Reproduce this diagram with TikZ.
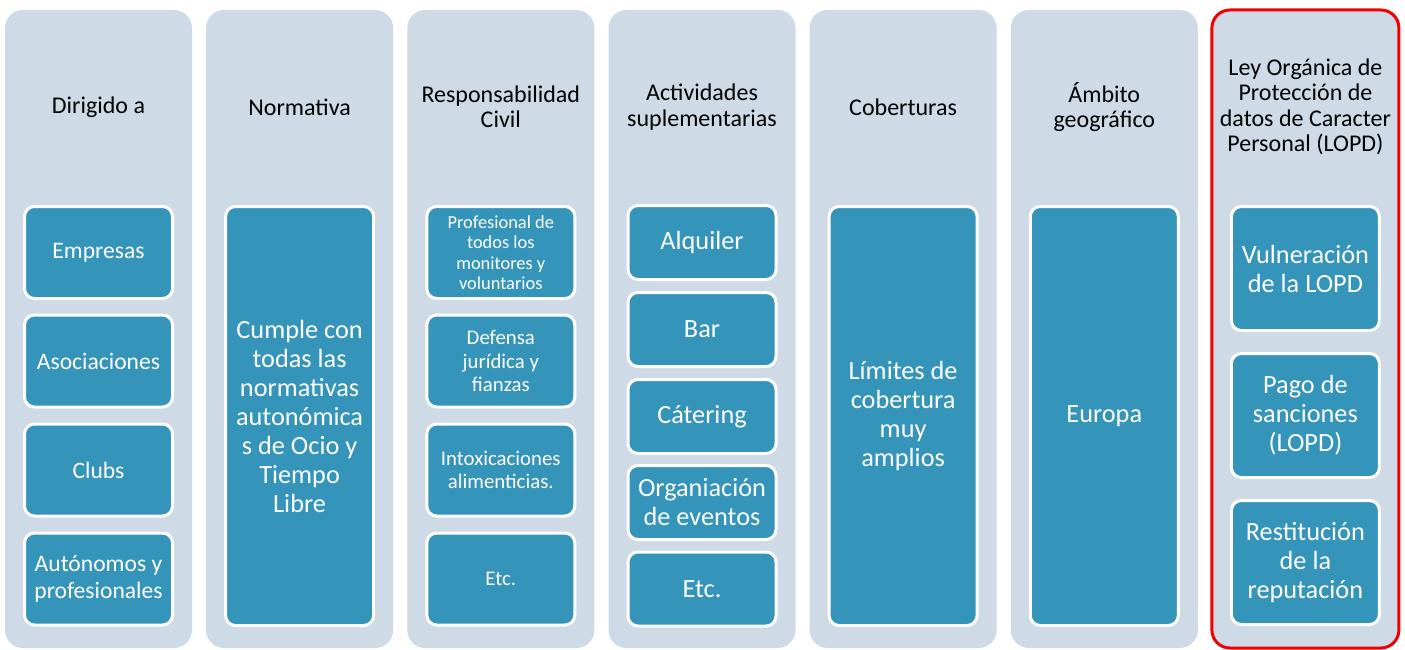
\documentclass[tikz,border=0pt]{standalone}
\usepackage{fontspec}
\setmainfont{Carlito}
\definecolor{colbg}{RGB}{206,219,230}
\definecolor{boxblue}{RGB}{52,148,186}
\definecolor{lopdred}{RGB}{240,0,0}
\begin{document}
\begin{tikzpicture}[x=1pt,y=-1pt,
  column/.style={rectangle, rounded corners=18pt, fill=colbg, minimum width=187pt, minimum height=638pt, inner sep=0pt},
  header/.style={align=center, font=\fontsize{24}{25.5}\selectfont, text=black, inner sep=0pt},
  item/.style={rectangle, rounded corners=10pt, fill=boxblue, draw=white, line width=3pt, minimum width=148pt, text=white, align=center, inner sep=0pt},
  rowfour/.style={item, minimum height=92pt},
  rowfive/.style={item, minimum height=74pt},
  rowthree/.style={item, minimum height=124pt},
  rowone/.style={item, minimum height=419pt},
  fsmall/.style={font=\fontsize{23.6}{27}\selectfont},
  fbig/.style={font=\fontsize{26.3}{29}\selectfont},
  ftiny/.style={font=\fontsize{18.4}{20.5}\selectfont},
  fmid/.style={font=\fontsize{20.8}{23.5}\selectfont}
]
\useasboundingbox (0,0) rectangle (1405,650);
\fill[white] (0,0) rectangle (1405,650);

% columns
\node[column] (col1) at (98.5,329) {};
\node[column] (col2) at (299.6,329) {};
\node[column] (col3) at (500.8,329) {};
\node[column] (col4) at (702,329) {};
\node[column] (col5) at (903.1,329) {};
\node[column] (col6) at (1104.3,329) {};
\node[column, draw=lopdred, line width=3pt] (col7) at (1305.4,329) {};

% headers
\node[header] (h1) at (98.5,107) {Dirigido a};
\node[header] (h2) at (299.6,107) {Normativa};
\node[header] (h3) at (500.8,107) {Responsabilidad\\Civil};
\node[header] (h4) at (702,107) {Actividades\\suplementarias};
\node[header] (h5) at (903.1,107) {Coberturas};
\node[header] (h6) at (1104.3,107) {Ámbito\\geográfico};
\node[header] (h7) at (1305.4,107) {Ley Orgánica de\\Protección de\\datos de Caracter\\Personal (LOPD)};

% column 1
\node[rowfour, fsmall] (a1) at (98.5,252.5) {Empresas};
\node[rowfour, fsmall] (a2) at (98.5,361) {Asociaciones};
\node[rowfour, fsmall] (a3) at (98.5,470) {Clubs};
\node[rowfour, fsmall] (a4) at (98.5,579) {Autónomos y\\profesionales};

% column 2
\node[rowone, fbig] (b1) at (299.6,416) {Cumple con\\todas las\\normativas\\autonómica\\s de Ocio y\\Tiempo\\Libre};

% column 3
\node[rowfour, ftiny] (c1) at (500.8,252.5) {Profesional de\\todos los\\monitores y\\voluntarios};
\node[rowfour, fmid] (c2) at (500.8,361) {Defensa\\jurídica y\\fianzas};
\node[rowfour, fmid] (c3) at (500.8,470) {Intoxicaciones\\alimenticias.};
\node[rowfour, fmid] (c4) at (500.8,579) {Etc.};

% column 4
\node[rowfive, fbig] (d1) at (702,242.5) {Alquiler};
\node[rowfive, fbig] (d2) at (702,329.5) {Bar};
\node[rowfive, fbig] (d3) at (702,416.5) {Cátering};
\node[rowfive, fbig] (d4) at (702,502.5) {Organiación\\de eventos};
\node[rowfive, fbig] (d5) at (702,589) {Etc.};

% column 5
\node[rowone, fbig] (e1) at (903.1,416) {Límites de\\cobertura\\muy\\amplios};

% column 6
\node[rowone, fbig] (f1) at (1104.3,416) {Europa};

% column 7
\node[rowthree, fbig] (g1) at (1305.4,268.5) {Vulneración\\de la LOPD};
\node[rowthree, fbig] (g2) at (1305.4,415.5) {Pago de\\sanciones\\(LOPD)};
\node[rowthree, fbig] (g3) at (1305.4,562.5) {Restitución\\de la\\reputación};
\end{tikzpicture}
\end{document}
